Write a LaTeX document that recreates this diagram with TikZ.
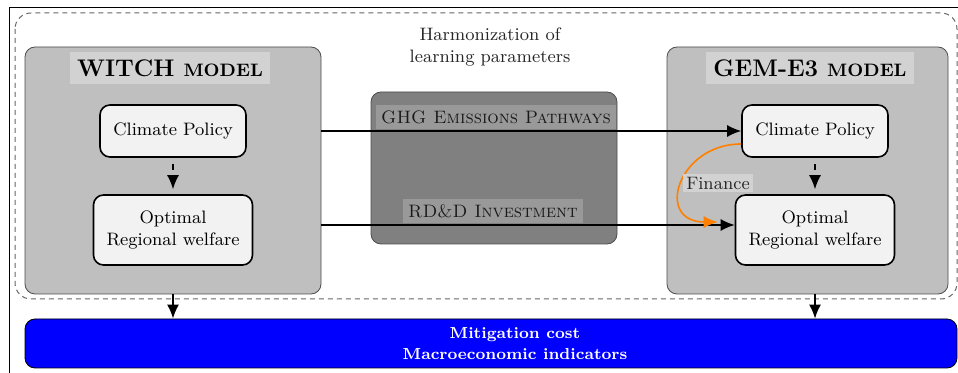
\documentclass[tikz,border=0pt]{standalone}
\usetikzlibrary{arrows.meta,positioning}

\begin{document}
\begin{tikzpicture}[x=0.5pt,y=-0.5pt,
    modelbox/.style={draw=black!70,fill=gray!50,rounded corners=5pt,inner sep=0pt},
    modeltitle/.style={fill=gray!35,text=black,inner sep=3.5pt},
    tag/.style={fill=gray!80,font=\small\scshape,text=black!90,inner sep=2.5pt},
    inner/.style={draw,thick,fill=gray!10,rounded corners=5pt,align=center,font=\small},
    flow/.style={thick,-{Latex[length=7pt,width=6pt]}},
    flowdash/.style={flow,dashed,shorten <=3pt,shorten >=2.5pt}]

  \useasboundingbox (0,0) rectangle (958,373);
  \clip (0,0) rectangle (958,373);

  % outer frame, only top and left edge are on the page
  \draw (9,400) |- (990,7);

  % dashed frame round the models
  \draw[black!60,line width=0.5pt,dash pattern=on 2.5pt off 2pt,rounded corners=8pt] (15,13) rectangle (957,299);

  % models and the shared block
  \node[modelbox,minimum width=148pt,minimum height=123.5pt] (witch) at (173,170.5) {};
  \node[modelbox,minimum width=140.5pt,minimum height=123.5pt] (gem) at (807.5,170.5) {};
  \node[modelbox,fill=gray,minimum width=123pt,minimum height=76pt] (harm) at (494,168) {};

  \node[modeltitle] (witchT) at (170,68) {\large\bfseries WITCH {\small MODEL}};
  \node[modeltitle] (gemT) at (810,68) {\large\bfseries GEM-E3 {\small MODEL}};

  \node[align=center,font=\small,text=black!85] (harmT) at (490,47) {Harmonization of\\learning parameters};
  \node[tag] (ghg) at (496,117) {GHG Emissions Pathways};
  \node[tag] (rdd) at (493,211) {RD\&D Investment};

  % WITCH side
  \node[inner,minimum width=73pt,minimum height=26pt] (cpL) at (173,131) {Climate Policy};
  \node[inner,minimum width=79.5pt,minimum height=35pt] (optL) at (173,230) {Optimal\\Regional welfare};

  % GEM-E3 side
  \node[inner,minimum width=73pt,minimum height=26pt] (cpR) at (815,131) {Climate Policy};
  \node[inner,minimum width=79.5pt,minimum height=35pt] (optR) at (815,230) {Optimal\\Regional welfare};

  \draw[flowdash] (cpL) -- (optL);
  \draw[flowdash] (cpR) -- (optR);

  % links through the shared block
  \coordinate (rddA) at ([yshift=2.5pt]optR.west);
  \draw[flow] (witch.east |- cpR.west) -- (cpR.west);
  \draw[flow] (witch.east |- rddA) -- (rddA);

  % finance loop
  \coordinate (finS) at ([yshift=-6.5pt]cpR.west);
  \coordinate (finE) at ([xshift=-8.5pt,yshift=4pt]optR.west);
  \draw[orange,thick,-{Latex[length=7pt,width=6pt]}] (finS) to[out=180,in=180,looseness=2] (finE);
  \node[fill=gray!35,font=\small,text=black!85,inner sep=1.5pt] (fin) at (718,183) {Finance};

  % results
  \node[draw,fill=blue,rounded corners=5pt,minimum width=466pt,minimum height=24.5pt] (cost) at (491,343.5) {};
  \node[align=center,text=white,font=\footnotesize\bfseries,inner sep=0pt] (costT) at (515,343.5)
    {Mitigation cost\\[1pt]Macroeconomic indicators};

  \draw[flow] (witch.south) -- (witch.south |- cost.north);
  \draw[flow] (gem.south -| cpR) -- (cost.north -| cpR);
\end{tikzpicture}
\end{document}
